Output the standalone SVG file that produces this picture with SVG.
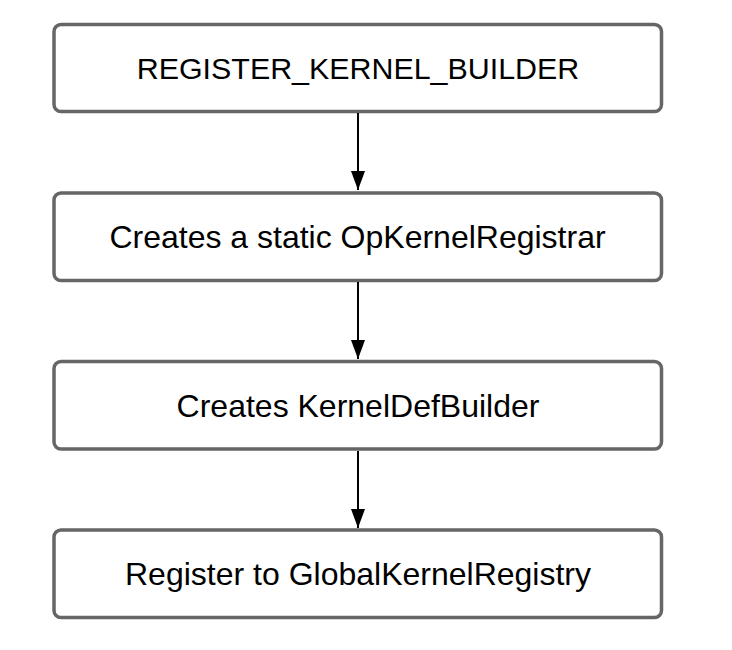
<svg xmlns="http://www.w3.org/2000/svg" width="732" height="650" viewBox="0 0 732 650">
<style>
.box{fill:#ffffff;stroke:#666666;stroke-width:3.5}
.lbl{font-family:"Liberation Sans",Arial,Helvetica,sans-serif;font-size:32px;fill:#000000;text-anchor:middle}
.caps{font-size:30.4px}
.conn{stroke:#000000;stroke-width:2;fill:none}
</style>
<defs>
<marker id="arr" markerUnits="userSpaceOnUse" markerWidth="19" markerHeight="14" viewBox="0 0 19 14" refX="19" refY="7" orient="auto">
<path d="M0,0 L19,7 L0,14 z" fill="#000000"/>
</marker>
</defs>
<rect width="732" height="650" fill="#ffffff"/>
<g id="n1"><rect class="box" x="54" y="24.5" width="607.5" height="87" rx="7"/><text class="lbl caps" x="358" y="79">REGISTER_KERNEL_BUILDER</text></g>
<g id="n2"><rect class="box" x="54" y="193" width="607.5" height="87.5" rx="7"/><text class="lbl" x="357.5" y="248">Creates a static OpKernelRegistrar</text></g>
<g id="n3"><rect class="box" x="54" y="361.5" width="607.5" height="87.5" rx="7"/><text class="lbl" x="358" y="416.5">Creates KernelDefBuilder</text></g>
<g id="n4"><rect class="box" x="54" y="530" width="607.5" height="87.5" rx="7"/><text class="lbl" x="358" y="585">Register to GlobalKernelRegistry</text></g>
<g id="connectors">
<line class="conn" x1="358" y1="113" x2="358" y2="190" marker-end="url(#arr)"/>
<line class="conn" x1="358" y1="282" x2="358" y2="359" marker-end="url(#arr)"/>
<line class="conn" x1="358" y1="451" x2="358" y2="528" marker-end="url(#arr)"/>
</g>
</svg>
